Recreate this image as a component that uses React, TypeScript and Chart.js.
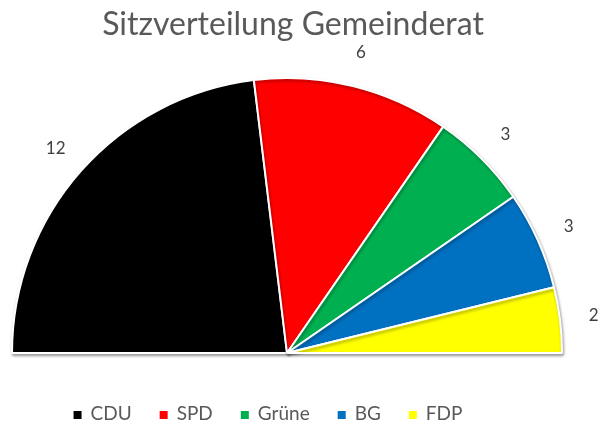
import React, { useEffect, useRef } from "react";
import { Chart, registerables } from "chart.js";

Chart.register(...registerables);

const categories = ["CDU", "SPD", "Grüne", "BG", "FDP"];
const seats = [12, 6, 3, 3, 2];
const colors = ["#000000", "#FF0000", "#00B050", "#0070C0", "#FFFF00"];
const titleText = "Sitzverteilung Gemeinderat";

const FONT = "Lato, 'Open Sans', sans-serif";

const overlayPlugin = {
  id: "overlay",
  beforeDatasetsDraw(chart: any) {
    const ctx = chart.ctx;
    ctx.save();
    ctx.shadowColor = "rgba(0,0,0,0.35)";
    ctx.shadowBlur = 3;
    ctx.shadowOffsetX = 1;
    ctx.shadowOffsetY = 2;
  },
  afterDatasetsDraw(chart: any) {
    chart.ctx.restore();
  },
  afterDraw(chart: any) {
    const ctx = chart.ctx;
    ctx.save();
    // title
    ctx.fillStyle = "#595959";
    ctx.font = `32px ${FONT}`;
    ctx.textAlign = "center";
    ctx.textBaseline = "alphabetic";
    ctx.fillText(titleText, 293, 35);

    // data labels
    const meta = chart.getDatasetMeta(0);
    ctx.fillStyle = "#404040";
    ctx.font = `17px ${FONT}`;
    ctx.textAlign = "center";
    ctx.textBaseline = "middle";
    meta.data.forEach((arc: any, i: number) => {
      const p = arc.getProps(["x", "y", "startAngle", "endAngle", "outerRadius"], true);
      const mid = (p.startAngle + p.endAngle) / 2;
      const r = p.outerRadius + 34;
      ctx.fillText(String(seats[i]), p.x + Math.cos(mid) * r, p.y + Math.sin(mid) * r);
    });

    // legend
    ctx.font = `19px ${FONT}`;
    const box = 8, gapText = 9, gapItem = 28;
    const widths = categories.map((c) => ctx.measureText(c).width);
    const total = widths.reduce((s, w) => s + box + gapText + w, 0) + gapItem * (categories.length - 1);
    let x = 268 - total / 2;
    const y = 414;
    ctx.textAlign = "left";
    ctx.textBaseline = "middle";
    categories.forEach((c, i) => {
      ctx.fillStyle = colors[i];
      ctx.fillRect(x, y - box / 2 + 1, box, box);
      x += box + gapText;
      ctx.fillStyle = "#595959";
      ctx.fillText(c, x, y);
      x += widths[i] + gapItem;
    });
    ctx.restore();
  },
};

export default function App() {
  const ref = useRef<HTMLCanvasElement>(null);
  useEffect(() => {
    if (!ref.current) return;
    const chart = new Chart(ref.current, {
      type: "doughnut",
      data: {
        labels: categories,
        datasets: [
          {
            data: seats,
            backgroundColor: colors,
            borderColor: "#FFFFFF",
            borderWidth: 2,
          },
        ],
      },
      options: {
        animation: false,
        responsive: true,
        maintainAspectRatio: false,
        rotation: -90,
        circumference: 180,
        cutout: 0,
        layout: { padding: { left: 10, right: 37, top: 77, bottom: 73 } },
        plugins: {
          legend: { display: false },
          title: { display: false },
          tooltip: { enabled: false },
        },
      },
      plugins: [overlayPlugin],
    });
    return () => chart.destroy();
  }, []);
  return (
    <div style={{ position: "fixed", left: 0, top: 0, width: 601, height: 427, background: "#fff" }}>
      <canvas ref={ref} />
    </div>
  );
}
